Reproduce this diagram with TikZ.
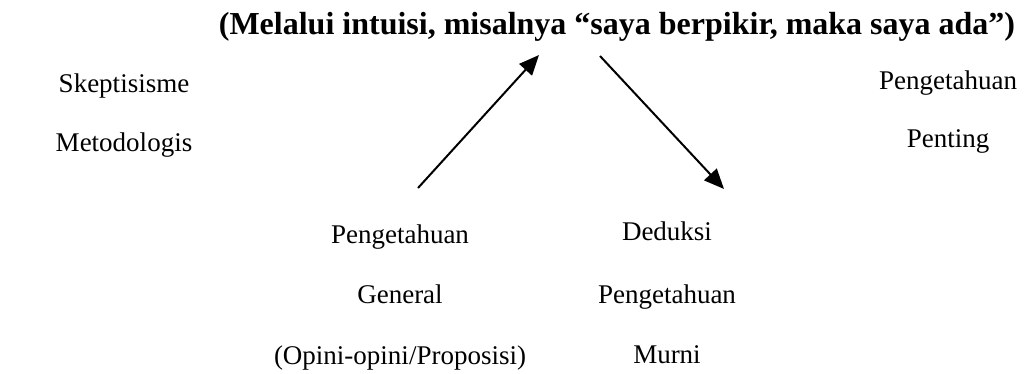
\documentclass[tikz,border=0pt]{standalone}
\usepackage{fontspec}
\setmainfont{Liberation Serif}
\usetikzlibrary{arrows.meta}
\tikzstyle{lbl}=[font=\fontsize{27}{32}\selectfont, inner sep=0pt, anchor=base]
\tikzstyle{ttl}=[font=\fontsize{32}{38}\selectfont\bfseries, inner sep=0pt, anchor=base]
\tikzstyle{arr}=[line width=2pt, -{Triangle[length=20pt,width=17pt]}]
\def\linedist{60}

\begin{document}
\begin{tikzpicture}[x=1pt,y=-1pt]
    \useasboundingbox (0,0) rectangle (1026,374);
    % title
    \path (617,35) node (title) [ttl] {(Melalui intuisi, misalnya “saya berpikir, maka saya ada”)};
    % left and right
    \path (124,93) node (skep) [lbl] {Skeptisisme};
    \path (skep.base) +(0,\linedist-1) node (metod) [lbl] {Metodologis};
    \path (948,90) node (peng) [lbl] {Pengetahuan};
    \path (peng.base) +(0,58) node (penting) [lbl] {Penting};
    % bottom
    \path (400,244) node (pgen) [lbl] {Pengetahuan};
    \path (pgen.base) +(0,\linedist) node (general) [lbl] {General};
    \path (general.base) +(0,\linedist) node (opini) [lbl] {(Opini-opini/Proposisi)};
    \path (667,241) node (deduksi) [lbl] {Deduksi};
    \path (deduksi.base) +(0,\linedist+2) node (pmurni) [lbl] {Pengetahuan};
    \path (pmurni.base) +(0,\linedist) node (murni) [lbl] {Murni};
    % arrows
    \coordinate (up0) at (418,188);
    \coordinate (up1) at (539,55);
    \coordinate (dn0) at (600,56);
    \coordinate (dn1) at (724,189);
    \draw [arr] (up0) -- (up1);
    \draw [arr] (dn0) -- (dn1);
\end{tikzpicture}
\end{document}
